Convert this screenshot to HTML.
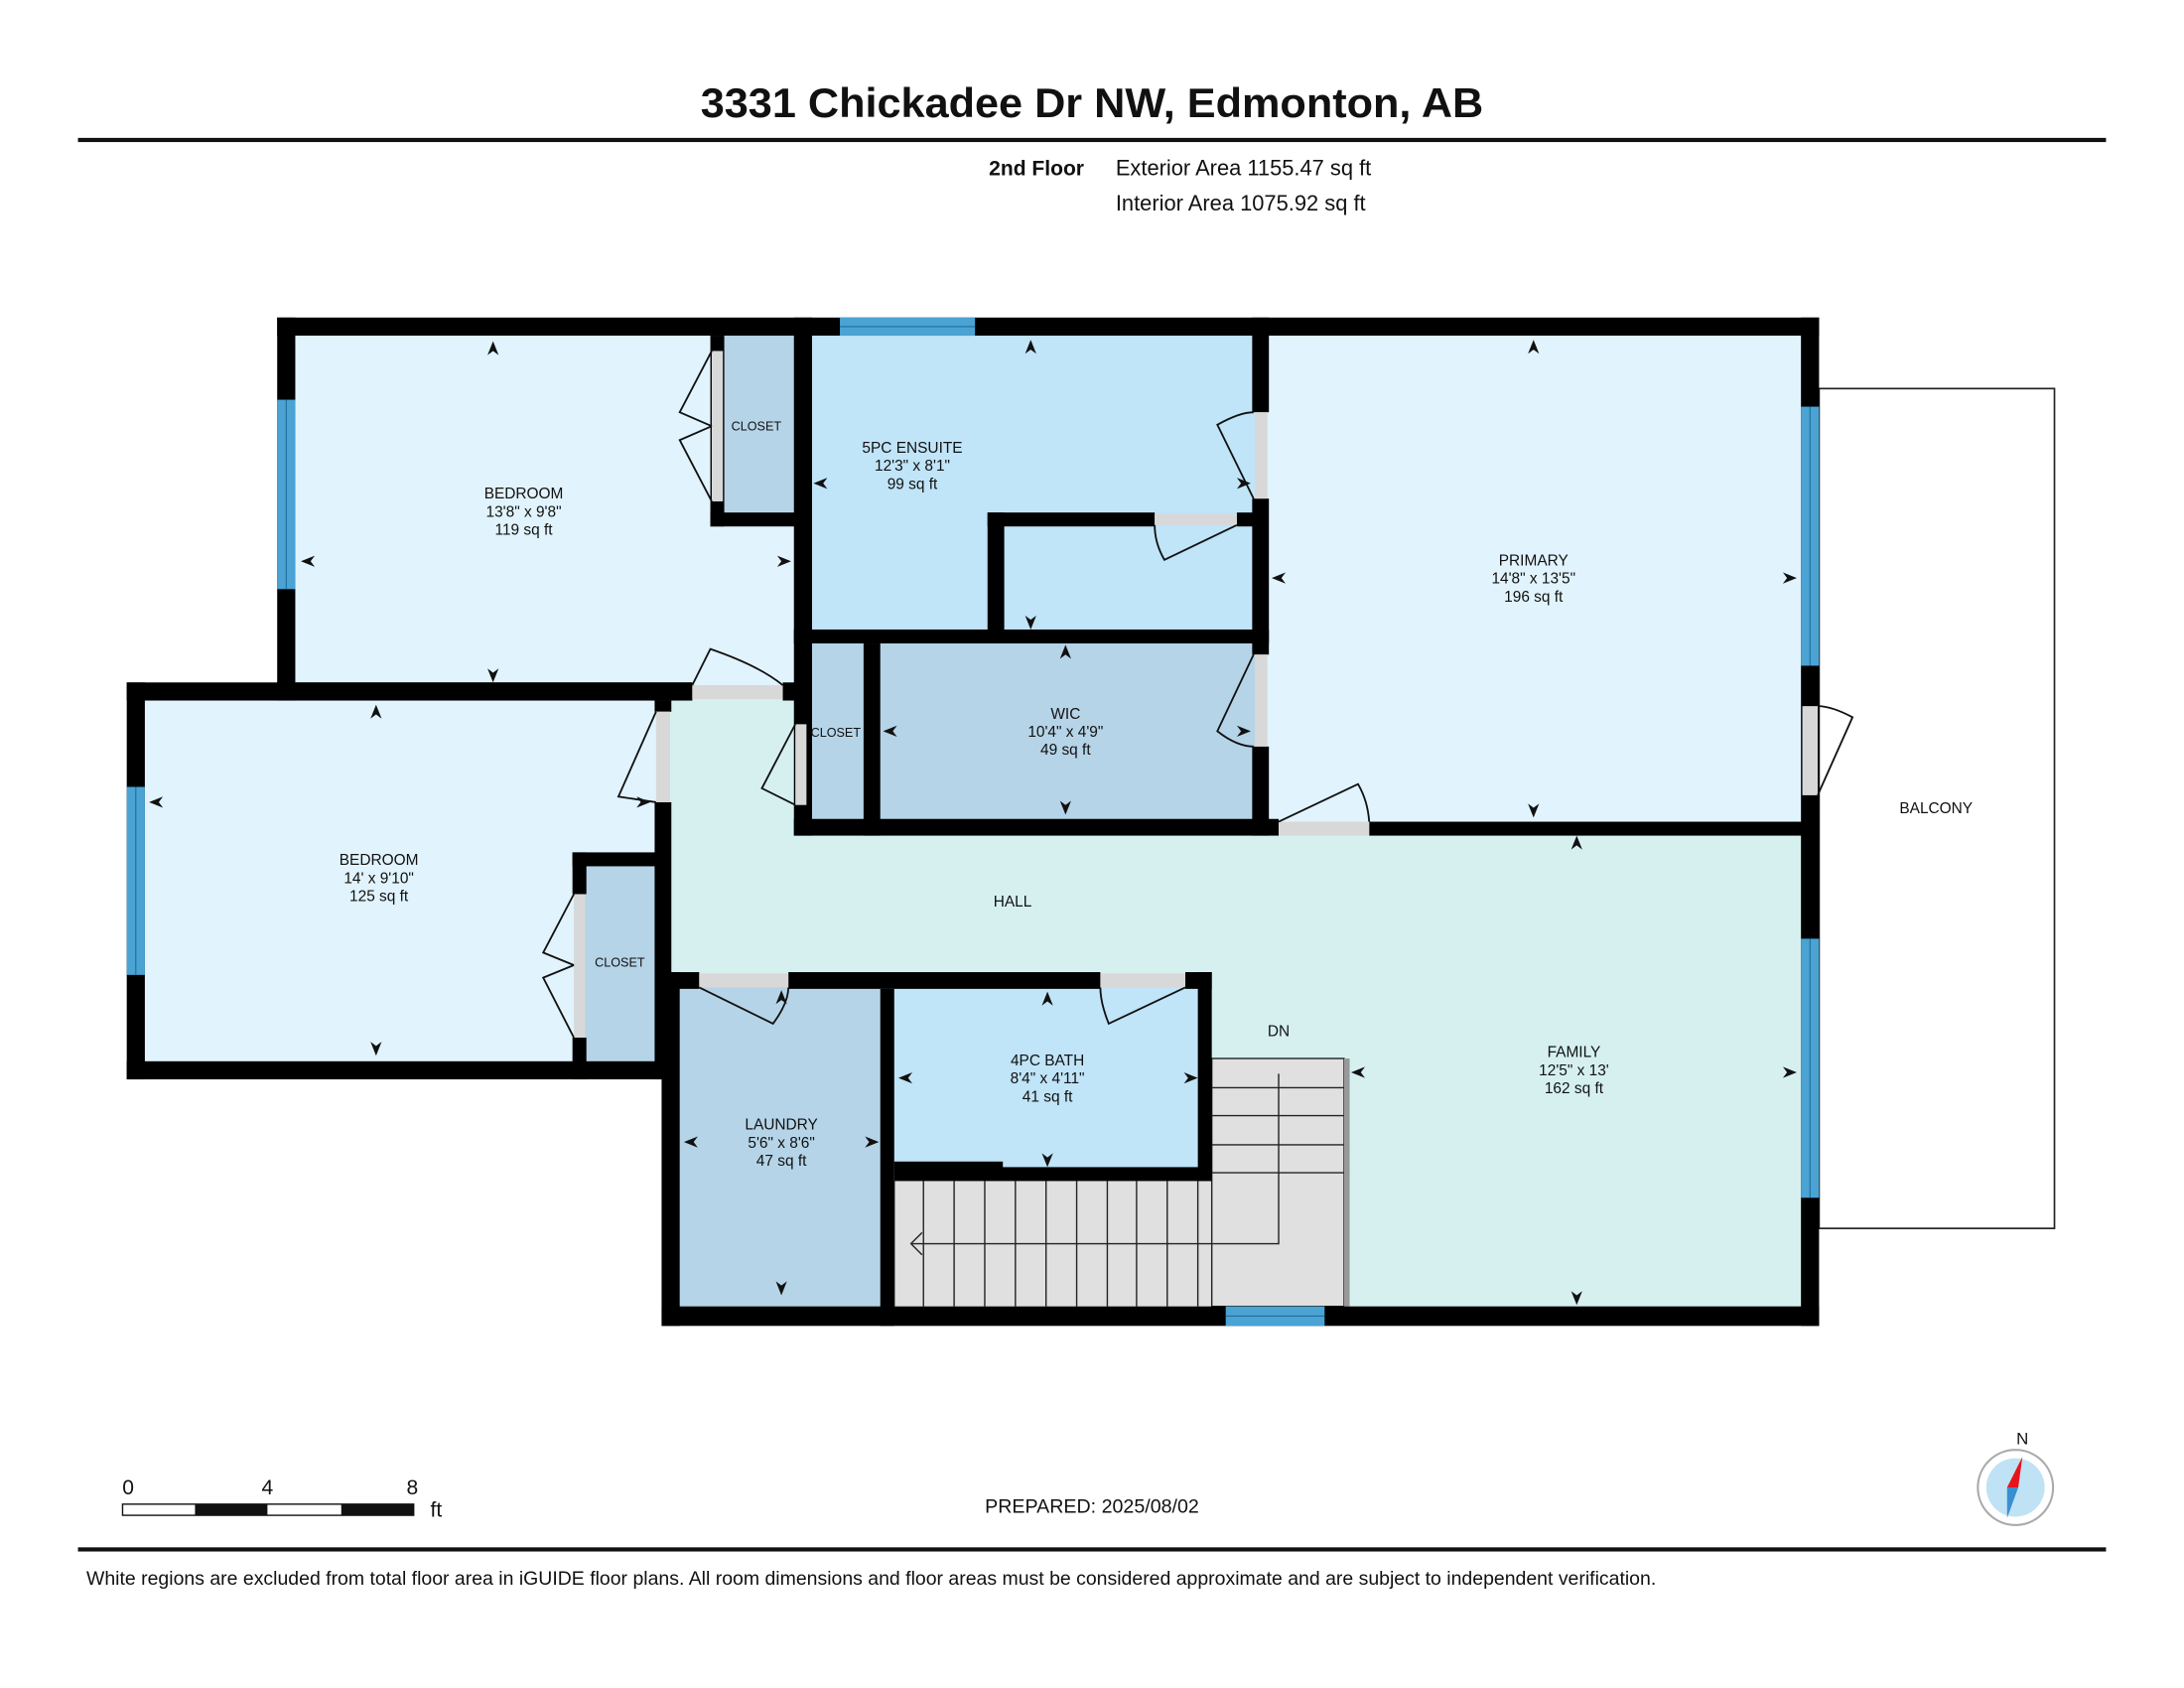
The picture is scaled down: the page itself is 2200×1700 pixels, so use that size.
<!DOCTYPE html>
<html><head><meta charset="utf-8"><style>
html,body{margin:0;padding:0;background:#fff}
svg{display:block}
text{font-family:"Liberation Sans",sans-serif;fill:#111}
</style></head><body>
<svg width="2200" height="1700" viewBox="0 0 1568 1212" preserveAspectRatio="none" xmlns="http://www.w3.org/2000/svg">
<rect width="1568" height="1212" fill="#fff"/>
<text x="784" y="84" text-anchor="middle" font-size="30" font-weight="bold" textLength="562" lengthAdjust="spacingAndGlyphs">3331 Chickadee Dr NW, Edmonton, AB</text>
<rect x="56" y="99" width="1456" height="3" fill="#111"/>
<text x="710" y="126" font-size="15" font-weight="bold">2nd Floor</text>
<text x="801" y="126" font-size="15.6">Exterior Area 1155.47 sq ft</text>
<text x="801" y="151" font-size="15.6">Interior Area 1075.92 sq ft</text>

<rect x="1306" y="279" width="169" height="603" fill="#fff" stroke="#222" stroke-width="1.2"/>
<text x="1390" y="584" text-anchor="middle" font-size="11">BALCONY</text>

<rect x="212" y="241" width="365" height="255" fill="#e1f3fc"/>
<rect x="104" y="500" width="372" height="268" fill="#e1f3fc"/>
<rect x="476" y="500" width="822" height="202" fill="#d6f0f0"/>
<rect x="865" y="595" width="433" height="349" fill="#d6f0f0"/>
<rect x="577" y="241" width="326" height="216" fill="#c0e4f8"/>
<rect x="905" y="241" width="393" height="354" fill="#e1f3fc"/>
<rect x="520" y="241" width="54" height="130" fill="#b6d4e8"/>
<rect x="626" y="457" width="279" height="137" fill="#b6d4e8"/>
<rect x="577" y="457" width="49" height="137" fill="#b6d4e8"/>
<rect x="416" y="617" width="58" height="152" fill="#b6d4e8"/>
<rect x="482" y="704" width="155" height="240" fill="#b6d4e8"/>
<rect x="637" y="704" width="228" height="140" fill="#c0e4f8"/>
<rect x="642" y="848" width="326" height="90" fill="#e0e0e0"/>
<rect x="870" y="760" width="98" height="90" fill="#e0e0e0"/>

<g stroke="#222" stroke-width="1">
<rect x="870" y="760" width="95" height="178" fill="none"/>
<line x1="870" y1="781" x2="965" y2="781"/><line x1="870" y1="801" x2="965" y2="801"/>
<line x1="870" y1="822" x2="965" y2="822"/><line x1="870" y1="842" x2="965" y2="842"/>
<line x1="642" y1="848" x2="642" y2="938"/>
<line x1="663" y1="848" x2="663" y2="938"/><line x1="685" y1="848" x2="685" y2="938"/>
<line x1="707" y1="848" x2="707" y2="938"/><line x1="729" y1="848" x2="729" y2="938"/>
<line x1="751" y1="848" x2="751" y2="938"/><line x1="773" y1="848" x2="773" y2="938"/>
<line x1="795" y1="848" x2="795" y2="938"/><line x1="816" y1="848" x2="816" y2="938"/>
<line x1="838" y1="848" x2="838" y2="938"/><line x1="860" y1="848" x2="860" y2="938"/>
<polyline points="918,771 918,893 655,893" fill="none"/>
<polyline points="662,885 654,893 662,901" fill="none"/>
</g>
<rect x="965" y="760" width="4" height="178" fill="#999"/>

<g fill="#000">
<rect x="199" y="228" width="1107" height="13"/>
<rect x="199" y="228" width="13" height="275"/>
<rect x="199" y="490" width="298" height="13"/>
<rect x="91" y="490" width="406" height="13"/>
<rect x="91" y="490" width="13" height="285"/>
<rect x="91" y="762" width="390" height="13"/>
<rect x="1293" y="228" width="13" height="724"/>
<rect x="475" y="938" width="831" height="14"/>
<rect x="475" y="698" width="13" height="254"/>
<rect x="570" y="228" width="13" height="372"/>
<rect x="562" y="490" width="21" height="13"/>
<rect x="510" y="241" width="10" height="137"/>
<rect x="510" y="368" width="62" height="10"/>
<rect x="899" y="228" width="12" height="68"/>
<rect x="899" y="358" width="12" height="112"/>
<rect x="899" y="536" width="12" height="64"/>
<rect x="709" y="368" width="12" height="89"/>
<rect x="709" y="368" width="120" height="10"/>
<rect x="888" y="368" width="15" height="10"/>
<rect x="570" y="452" width="341" height="10"/>
<rect x="620" y="462" width="12" height="138"/>
<rect x="570" y="588" width="348" height="12"/>
<rect x="983" y="590" width="323" height="10"/>
<rect x="470" y="503" width="12" height="8"/>
<rect x="470" y="576" width="12" height="199"/>
<rect x="411" y="612" width="70" height="10"/>
<rect x="411" y="612" width="10" height="30"/>
<rect x="411" y="745" width="10" height="30"/>
<rect x="475" y="698" width="27" height="12"/>
<rect x="566" y="698" width="224" height="12"/>
<rect x="851" y="698" width="19" height="12"/>
<rect x="632" y="710" width="10" height="242"/>
<rect x="860" y="698" width="10" height="150"/>
<rect x="642" y="838" width="228" height="10"/>
<rect x="642" y="834" width="78" height="5"/>
</g>

<g fill="#d8d8d8">
<rect x="497" y="492" width="65" height="10"/>
<rect x="918" y="590" width="65" height="10"/>
<rect x="502" y="699" width="64" height="10"/>
<rect x="790" y="699" width="61" height="10"/>
<rect x="829" y="369" width="59" height="8"/>
<rect x="901" y="296" width="9" height="62"/>
<rect x="901" y="470" width="9" height="66"/>
<rect x="1294" y="507" width="11" height="64"/>
<rect x="471" y="511" width="10" height="65"/>
<rect x="571" y="520" width="8" height="58"/>
<rect x="511" y="252" width="8" height="108"/>
<rect x="412" y="642" width="8" height="103"/>
</g>
<g fill="none" stroke="#111" stroke-width="1.3">
<path d="M497 492 L510 466 Q545 478 562 492"/>
<path d="M918 590 L975 563 Q982 575 983 590"/>
<path d="M502 709 L555 735 Q566 720 566 709"/>
<path d="M851 709 L796 735 Q790 720 790 709"/>
<path d="M888 377 L836 402 Q829 390 829 377"/>
<path d="M900 358 L874 305 Q890 296 900 296"/>
<path d="M900 470 L874 525 Q888 536 900 536"/>
<path d="M1305 571 L1330 515 Q1315 507 1305 507"/>
<path d="M471 576 L444 572 L471 511"/>
<path d="M571 578 L547 566 L571 520"/>
<path d="M511 306 L488 296 L511 252 M511 306 L488 316 L511 360"/>
<path d="M412 693 L390 684 L412 642 M412 693 L390 702 L412 745"/>
</g>

<g fill="#4ba3d4">
<rect x="603" y="228" width="97" height="13"/>
<rect x="199" y="287" width="13" height="136"/>
<rect x="91" y="565" width="13" height="135"/>
<rect x="1293" y="292" width="13" height="186"/>
<rect x="1293" y="674" width="13" height="186"/>
<rect x="880" y="938" width="71" height="14"/>
</g>
<g stroke="#1f6e9c" stroke-width="0.8">
<line x1="603" y1="234.5" x2="700" y2="234.5"/><line x1="205.5" y1="287" x2="205.5" y2="423"/>
<line x1="97.5" y1="565" x2="97.5" y2="700"/><line x1="1299.5" y1="292" x2="1299.5" y2="478"/>
<line x1="1299.5" y1="674" x2="1299.5" y2="860"/><line x1="880" y1="945" x2="951" y2="945"/>
</g>

<g fill="#111">
<path d="M354 245 l-4 10 4-3 4 3z"/><path d="M354 490 l-4 -10 4 3 4 -3z"/>
<path d="M216 403 l10 -4 -3 4 3 4z"/><path d="M568 403 l-10 -4 3 4 -3 4z"/>
<path d="M270 506 l-4 10 4-3 4 3z"/><path d="M270 758 l-4 -10 4 3 4 -3z"/>
<path d="M107 576 l10 -4 -3 4 3 4z"/><path d="M467 576 l-10 -4 3 4 -3 4z"/>
<path d="M740 244 l-4 10 4-3 4 3z"/><path d="M740 452 l-4 -10 4 3 4 -3z"/>
<path d="M584 347 l10 -4 -3 4 3 4z"/><path d="M898 347 l-10 -4 3 4 -3 4z"/>
<path d="M1101 244 l-4 10 4-3 4 3z"/><path d="M1101 587 l-4 -10 4 3 4 -3z"/>
<path d="M913 415 l10 -4 -3 4 3 4z"/><path d="M1290 415 l-10 -4 3 4 -3 4z"/>
<path d="M765 463 l-4 10 4-3 4 3z"/><path d="M765 585 l-4 -10 4 3 4 -3z"/>
<path d="M634 525 l10 -4 -3 4 3 4z"/><path d="M898 525 l-10 -4 3 4 -3 4z"/>
<path d="M1132 600 l-4 10 4-3 4 3z"/><path d="M1132 937 l-4 -10 4 3 4 -3z"/>
<path d="M970 770 l10 -4 -3 4 3 4z"/><path d="M1290 770 l-10 -4 3 4 -3 4z"/>
<path d="M752 712 l-4 10 4-3 4 3z"/><path d="M752 838 l-4 -10 4 3 4 -3z"/>
<path d="M645 774 l10 -4 -3 4 3 4z"/><path d="M860 774 l-10 -4 3 4 -3 4z"/>
<path d="M561 711 l-4 10 4-3 4 3z"/><path d="M561 930 l-4 -10 4 3 4 -3z"/>
<path d="M491 820 l10 -4 -3 4 3 4z"/><path d="M631 820 l-10 -4 3 4 -3 4z"/>
</g>

<g font-size="11" text-anchor="middle">
<text x="376" y="358">BEDROOM</text><text x="376" y="371">13'8" x 9'8"</text><text x="376" y="384">119 sq ft</text>
<text x="272" y="621">BEDROOM</text><text x="272" y="634">14' x 9'10"</text><text x="272" y="647">125 sq ft</text>
<text x="655" y="325">5PC ENSUITE</text><text x="655" y="338">12'3" x 8'1"</text><text x="655" y="351">99 sq ft</text>
<text x="1101" y="406">PRIMARY</text><text x="1101" y="419">14'8" x 13'5"</text><text x="1101" y="432">196 sq ft</text>
<text x="765" y="516">WIC</text><text x="765" y="529">10'4" x 4'9"</text><text x="765" y="542">49 sq ft</text>
<text x="727" y="651">HALL</text>
<text x="918" y="744">DN</text>
<text x="1130" y="759">FAMILY</text><text x="1130" y="772">12'5" x 13'</text><text x="1130" y="785">162 sq ft</text>
<text x="752" y="765">4PC BATH</text><text x="752" y="778">8'4" x 4'11"</text><text x="752" y="791">41 sq ft</text>
<text x="561" y="811">LAUNDRY</text><text x="561" y="824">5'6" x 8'6"</text><text x="561" y="837">47 sq ft</text>
</g>
<g font-size="9" text-anchor="middle">
<text x="543" y="309">CLOSET</text>
<text x="600" y="529">CLOSET</text>
<text x="445" y="694">CLOSET</text>
</g>

<text x="92" y="1073" font-size="15" text-anchor="middle">0</text>
<text x="192" y="1073" font-size="15" text-anchor="middle">4</text>
<text x="296" y="1073" font-size="15" text-anchor="middle">8</text>
<text x="309" y="1089" font-size="15">ft</text>
<rect x="88" y="1080" width="209" height="8" fill="#fff" stroke="#111" stroke-width="1"/>
<rect x="140" y="1080" width="52" height="8" fill="#111"/>
<rect x="245" y="1080" width="52" height="8" fill="#111"/>

<text x="784" y="1086" font-size="14" text-anchor="middle">PREPARED: 2025/08/02</text>

<text x="1452" y="1037" font-size="12" text-anchor="middle">N</text>
<circle cx="1447" cy="1068" r="27" fill="#fff" stroke="#aaa" stroke-width="1.5"/>
<circle cx="1447" cy="1068" r="21" fill="#bfe2f5"/>
<path d="M1452 1046 L1441 1068 L1449 1068 Z" fill="#e8141c"/>
<path d="M1441 1068 L1449 1068 L1441 1090 Z" fill="#3a8fd0"/>

<rect x="56" y="1111" width="1456" height="3" fill="#111"/>
<text x="62" y="1138" font-size="13.9" textLength="1127" lengthAdjust="spacingAndGlyphs">White regions are excluded from total floor area in iGUIDE floor plans. All room dimensions and floor areas must be considered approximate and are subject to independent verification.</text>
</svg>
</body></html>
